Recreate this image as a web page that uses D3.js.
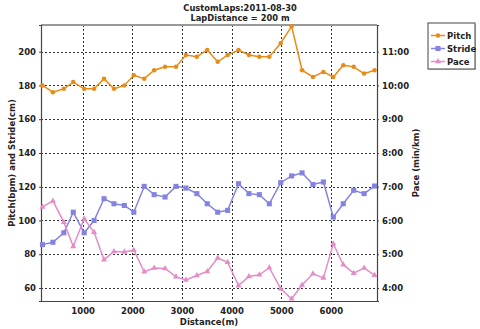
<!DOCTYPE html>
<html lang="en">
<head>
    <meta charset="UTF-8">
    <title>CustomLaps</title>
    <script src="https://d3js.org/d3.v7.min.js"></script>
</head>
<body>
    <div class="chart"></div>
    <style>
        body { margin: 0; background: #fff; }
        .chart { width: 480px; height: 329px; }
        text { font-family: "DejaVu Sans", Verdana, sans-serif; font-weight: bold; fill: #222; }
    </style>
    <script>
    // 資料 (每圈距離 m, 步頻 bpm, 步幅 cm, 配速 min/km)
    const distance = [190, 400, 620, 810, 1030, 1230, 1430, 1630, 1840, 2030, 2240, 2440,
        2660, 2880, 3080, 3300, 3510, 3720, 3920, 4140, 4350, 4560, 4760, 4990,
        5210, 5420, 5640, 5850, 6050, 6250, 6460, 6670, 6880]
    const pitch = [180, 176, 178, 182, 178, 178, 184, 178, 180, 186, 184, 189,
        191, 191, 198, 197, 201, 194, 198, 201, 198, 197, 197, 205,
        215, 189, 185, 188, 185, 192, 191, 187, 189]
    const stride = [85.7, 87.1, 92.7, 104.9, 92.7, 100, 112.9, 109.9, 108.9, 104.9, 120.2, 115.3,
        113.9, 120.2, 119.2, 115.9, 109.9, 104.9, 106, 121.8, 115.9, 115.3, 109.9, 122.4,
        126.4, 128.2, 121.3, 122.8, 102, 109.9, 117.9, 115.9, 120.4]
    const pace = [6.40, 6.58, 5.95, 5.23, 6.05, 5.65, 4.84, 5.08, 5.07, 5.12, 4.48, 4.59,
        4.58, 4.33, 4.24, 4.37, 4.49, 4.89, 4.76, 4.07, 4.34, 4.39, 4.60, 3.98,
        3.68, 4.09, 4.42, 4.30, 5.31, 4.69, 4.44, 4.59, 4.38]
    const leftTicks = [60, 80, 100, 120, 140, 160, 180, 200]
    const rightTicks = [4, 5, 6, 7, 8, 9, 10, 11]
    const xTicks = [1000, 2000, 3000, 4000, 5000, 6000]
    const series = ['Pitch', 'Stride', 'Pace']
    const colors = ['#e88c18', '#8484e0', '#e48cc8']

    const width = 480, height = 329
    const plotL = 41, plotR = 377, plotT = 25, plotB = 301

    const svg = d3.select('.chart')
        .append('svg')
        .attr('width', width)
        .attr('height', height)

    // 比例尺
    const xScale = d3.scaleLinear().domain([160, 6930]).range([plotL, plotR])
    const yLeft = d3.scaleLinear().domain([52.3, 215.8]).range([plotB, plotT])
    // 配速軸: 分 = 值/20 + 1
    const yRight = d3.scaleLinear()
        .domain(yLeft.domain().map(v => v / 20 + 1))
        .range([plotB, plotT])

    // 格線
    const grid = svg.append('g')
        .attr('stroke', '#333')
        .attr('stroke-width', 1)
        .attr('stroke-dasharray', '2,2')
    grid.selectAll('.hg')
        .data(leftTicks)
        .enter()
        .append('line')
        .attr('x1', plotL).attr('x2', plotR)
        .attr('y1', d => Math.round(yLeft(d)) + 0.5)
        .attr('y2', d => Math.round(yLeft(d)) + 0.5)
    grid.selectAll('.vg')
        .data(xTicks)
        .enter()
        .append('line')
        .attr('y1', plotT).attr('y2', plotB)
        .attr('x1', d => Math.round(xScale(d)) + 0.5)
        .attr('x2', d => Math.round(xScale(d)) + 0.5)

    // 上框線
    svg.append('line')
        .attr('x1', plotL).attr('x2', plotR)
        .attr('y1', plotT).attr('y2', plotT)
        .attr('stroke', '#999')
        .attr('stroke-width', 2)

    // 座標軸
    const xAxis = d3.axisBottom(xScale).tickValues(xTicks).tickSize(0).tickPadding(7)
        .tickFormat(d3.format('d'))
    svg.append('g')
        .attr('transform', `translate(0, ${plotB})`)
        .call(xAxis)
    const yAxisL = d3.axisLeft(yLeft).tickValues(leftTicks).tickSize(2).tickPadding(3)
    svg.append('g')
        .attr('transform', `translate(${plotL}, 0)`)
        .call(yAxisL)
    const yAxisR = d3.axisRight(yRight).tickValues(rightTicks).tickSize(2).tickPadding(3)
        .tickFormat(d => d + ':00')
    svg.append('g')
        .attr('transform', `translate(${plotR}, 0)`)
        .call(yAxisR)
    svg.selectAll('.domain').attr('stroke', '#444').attr('stroke-width', 1.2)
    svg.selectAll('.tick line').attr('stroke', '#444')
    svg.selectAll('.tick text')
        .style('font-size', '8.5px')
        .style('font-family', '"DejaVu Sans", Verdana, sans-serif')
        .style('font-weight', 'bold')
        .attr('fill', '#222')

    // 軸標題
    svg.append('text')
        .attr('x', (plotL + plotR) / 2).attr('y', 325)
        .attr('text-anchor', 'middle')
        .style('font-size', '8.5px')
        .text('Distance(m)')
    svg.append('text')
        .attr('transform', `translate(15, ${(plotT + plotB) / 2}) rotate(-90)`)
        .attr('text-anchor', 'middle')
        .style('font-size', '8.5px')
        .text('Pitch(bpm) and Stride(cm)')
    svg.append('text')
        .attr('transform', `translate(419, ${(plotT + plotB) / 2}) rotate(-90)`)
        .attr('text-anchor', 'middle')
        .style('font-size', '8.5px')
        .text('Pace (min/km)')

    // 標題
    svg.append('text')
        .attr('x', 240).attr('y', 10.5)
        .attr('text-anchor', 'middle')
        .style('font-size', '8.3px')
        .text('CustomLaps:2011-08-30')
    svg.append('text')
        .attr('x', 240).attr('y', 20.5)
        .attr('text-anchor', 'middle')
        .style('font-size', '8.3px')
        .text('LapDistance = 200 m')

    // 線與點
    const lines = [
        { name: 'Pitch', values: pitch, y: yLeft, symbol: d3.symbolCircle, size: 16 },
        { name: 'Stride', values: stride, y: yLeft, symbol: d3.symbolSquare, size: 26 },
        { name: 'Pace', values: pace, y: yRight, symbol: d3.symbolTriangle, size: 16 }
    ]
    lines.forEach((s, i) => {
        const line = d3.line()
            .x((d, j) => xScale(distance[j]))
            .y(d => s.y(d))
        svg.append('path')
            .datum(s.values)
            .attr('d', line)
            .attr('fill', 'none')
            .attr('stroke', colors[i])
            .attr('stroke-width', 1.5)
        svg.append('g')
            .selectAll('path')
            .data(s.values)
            .enter()
            .append('path')
            .attr('transform', (d, j) => `translate(${xScale(distance[j])}, ${s.y(d)})`)
            .attr('d', d3.symbol().type(s.symbol).size(s.size))
            .attr('fill', colors[i])
    })

    // 圖例
    const legend = svg.append('g').attr('transform', 'translate(428, 23)')
    legend.append('rect')
        .attr('x', 1).attr('y', 1)
        .attr('width', 47).attr('height', 46)
        .attr('fill', '#ccc')
    legend.append('rect')
        .attr('width', 47).attr('height', 46)
        .attr('fill', '#fff')
        .attr('stroke', '#444')
    lines.forEach((s, i) => {
        const ly = 12.5 + i * 13
        legend.append('line')
            .attr('x1', 3).attr('x2', 17)
            .attr('y1', ly).attr('y2', ly)
            .attr('stroke', colors[i])
            .attr('stroke-width', 1.5)
        legend.append('path')
            .attr('transform', `translate(10, ${ly})`)
            .attr('d', d3.symbol().type(s.symbol).size(s.size))
            .attr('fill', colors[i])
        legend.append('text')
            .attr('x', 19).attr('y', ly + 3)
            .style('font-size', '8.5px')
            .text(series[i])
    })
    </script>
</body>
</html>
